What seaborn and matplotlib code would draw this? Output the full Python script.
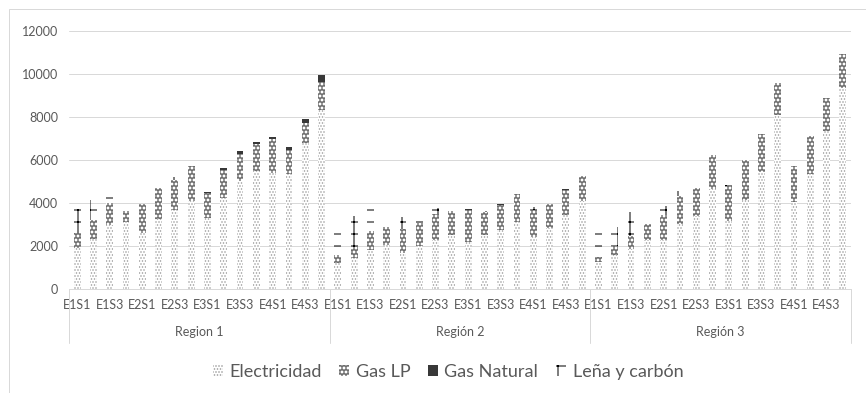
import numpy as np
import pandas as pd
import matplotlib
matplotlib.use("Agg")
import matplotlib.pyplot as plt
from matplotlib.patches import Patch, Rectangle
from matplotlib.lines import Line2D
import seaborn as sns

# Consumption by fuel for each scenario (E = estrato, S = sub-scenario), three regions
regions = ["Region 1", "Región 2", "Región 3"]
scenarios = ["E1S1", "E1S2", "E1S3", "E1S4", "E2S1", "E2S2", "E2S3", "E2S4",
             "E3S1", "E3S2", "E3S3", "E3S4", "E4S1", "E4S2", "E4S3", "E4S4"]

electricidad_r1 = [1890, 2320, 2990, 3100, 2600, 3255, 3690, 4076,
                   3300, 4230, 5000, 5500, 5390, 5350, 6760, 8300]
gas_lp_r1 = [730, 880, 990, 540, 1330, 1445, 1394, 1628,
             1160, 1280, 1255, 1220, 1585, 1100, 960, 1310]
gas_natural_r1 = [0, 0, 0, 0, 0, 0, 0, 0,
                  60, 130, 135, 105, 75, 150, 200, 310]
lena_r1 = [1080, 930, 570, 0, 180, 0, 130, 0,
           0, 0, 0, 0, 0, 0, 0, 0]

electricidad_r2 = [1200, 1420, 1830, 2060, 1670, 1984, 2290, 2530,
                   2170, 2500, 2760, 3115, 2420, 2840, 3430, 4080]
gas_lp_r2 = [380, 550, 860, 810, 1100, 1066, 1180, 1080,
             1490, 1065, 1130, 1305, 1240, 1130, 1160, 1190]
gas_natural_r2 = [0, 0, 0, 0, 0, 0, 0, 0,
                  40, 0, 40, 0, 0, 0, 40, 0]
lena_r2 = [1350, 1420, 1115, 0, 555, 400, 280, 0,
           0, 80, 0, 0, 140, 0, 0, 0]

electricidad_r3 = [1255, 1565, 1875, 2260, 2260, 3010, 3380, 4665,
                   3150, 4120, 5440, 8075, 4045, 5330, 7350, 9315]
gas_lp_r3 = [235, 420, 590, 750, 1165, 1315, 1320, 1550,
             1640, 1860, 1780, 1505, 1675, 1770, 1530, 1585]
gas_natural_r3 = [0] * 16
lena_r3 = [1390, 915, 1100, 0, 420, 215, 0, 0,
           50, 0, 0, 0, 0, 0, 0, 0]

y_ticks = [0, 2000, 4000, 6000, 8000, 10000, 12000]
series_names = ["Electricidad", "Gas LP", "Gas Natural", "Leña y carbón"]

df = pd.DataFrame({
    "region": np.repeat(regions, len(scenarios)),
    "scenario": scenarios * len(regions),
    "Electricidad": electricidad_r1 + electricidad_r2 + electricidad_r3,
    "Gas LP": gas_lp_r1 + gas_lp_r2 + gas_lp_r3,
    "Gas Natural": gas_natural_r1 + gas_natural_r2 + gas_natural_r3,
    "Leña y carbón": lena_r1 + lena_r2 + lena_r3,
})
df["pos"] = np.arange(len(df))

DPI = 72
sns.set_theme(style="white")
plt.rcParams["font.family"] = ["Lato", "DejaVu Sans"]

fig = plt.figure(figsize=(866 / DPI, 393 / DPI), dpi=DPI)
ax = fig.add_axes([69 / 866, 1 - 289 / 393, (851 - 69) / 866, (289 - 30.7) / 393])

styles = {
    "Electricidad": dict(facecolor="white", edgecolor="#9a9a9a", hatch="....", lw_h=0.9),
    "Gas LP": dict(facecolor="#6e6e6e", edgecolor="white", hatch="ooo", lw_h=1.0),
    "Gas Natural": dict(facecolor="#383838", edgecolor="#383838", hatch=None, lw_h=1.0),
    "Leña y carbón": dict(facecolor="none", edgecolor="black", hatch="+", lw_h=1.0),
}

bar_width = 0.42
bottom = np.zeros(len(df))
for name in series_names:
    st = styles[name]
    with plt.rc_context({"hatch.linewidth": st["lw_h"]}):
        sns.barplot(data=df, x="pos", y=name, order=list(df["pos"]), ax=ax,
                    errorbar=None, width=bar_width,
                    color=st["facecolor"] if st["facecolor"] != "none" else "white",
                    facecolor=st["facecolor"], edgecolor=st["edgecolor"],
                    hatch=st["hatch"], linewidth=0, bottom=bottom)
    bottom = bottom + df[name].to_numpy()

grid_c = "#d9d9d9"
text_c = "#595959"

ax.set_ylim(0, 12000)
ax.set_xlim(-0.5, len(df) - 0.5)
ax.set_yticks(y_ticks)
ax.set_yticklabels([str(t) for t in y_ticks])
ax.yaxis.grid(True, color=grid_c, linewidth=1)
ax.set_axisbelow(True)
ax.set_xlabel("")
ax.set_ylabel("")
for s in ["top", "right", "left"]:
    ax.spines[s].set_visible(False)
ax.spines["bottom"].set_color(grid_c)
ax.spines["bottom"].set_linewidth(1)

tick_pos = df["pos"].to_numpy()[::2]
ax.set_xticks(tick_pos)
ax.set_xticklabels(df["scenario"].to_numpy()[::2])
ax.tick_params(axis="x", length=0, pad=10, labelsize=12.5, labelcolor=text_c)
ax.tick_params(axis="y", length=0, pad=11, labelsize=12.5, labelcolor=text_c)

# region labels and separators under the category axis
trans = ax.get_xaxis_transform()
n = len(scenarios)
ax_h = 289 - 30.7
for i, reg in enumerate(regions):
    ax.text(i * n + (n - 1) / 2, -(332 - 289) / ax_h, reg, transform=trans,
            ha="center", va="center", fontsize=12.5, color=text_c)
for b in range(len(regions) + 1):
    ax.add_line(Line2D([b * n - 0.5, b * n - 0.5], [0, -(343 - 289) / ax_h],
                       transform=trans, color=grid_c, lw=1, clip_on=False))

# legend
handles = []
for name in series_names:
    st = styles[name]
    handles.append(Patch(facecolor=st["facecolor"], edgecolor=st["edgecolor"],
                         hatch=st["hatch"], linewidth=0, label=name))
leg = fig.legend(handles=handles, loc="center", bbox_to_anchor=(448 / 866, 1 - 372 / 393),
                 ncol=4, frameon=False, fontsize=18, handlelength=0.55,
                 handleheight=0.55, handletextpad=0.35, columnspacing=1.0)
for t in leg.get_texts():
    t.set_color(text_c)

# chart frame
fig.patches.append(Rectangle((9 / 866, -0.1), 1.2, 1 - 9 / 393 + 0.1,
                             transform=fig.transFigure, fill=False,
                             edgecolor=grid_c, lw=1))

fig.savefig("out.png", dpi=DPI)
